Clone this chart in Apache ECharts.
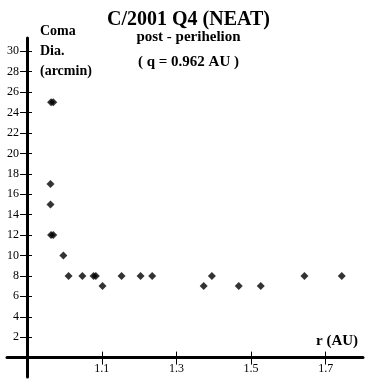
<!DOCTYPE html>
<html>
<head>
<meta charset="utf-8">
<script src="https://cdn.jsdelivr.net/npm/echarts@6/dist/echarts.min.js"></script>
<style>
  html, body { margin: 0; padding: 0; background: #fff; }
  #chart { width: 377px; height: 392px; }
</style>
</head>
<body>
<div id="chart"></div>
<script>
// heliocentric distance r (AU) and coma diameter (arcmin)
const rValues = [0.964, 0.970, 0.9625, 0.9625, 0.964, 0.970, 0.997, 1.011, 1.048, 1.078, 1.084,
  1.102, 1.153, 1.204, 1.235, 1.373, 1.395, 1.467, 1.526, 1.643, 1.743];
const comaValues = [25, 25, 17, 15, 12, 12, 10, 8, 8, 8, 8,
  7, 8, 8, 8, 7, 8, 7, 7, 8, 8];
const xTicks = [1.1, 1.3, 1.5, 1.7];
const yTicks = [2, 4, 6, 8, 10, 12, 14, 16, 18, 20, 22, 24, 26, 28, 30];

const serif = '"Liberation Serif", "DejaVu Serif", serif';
const X_MIN = 0.846, X_MAX = 1.8;
const Y_MIN = -1.9, Y_MAX = 31.3;

let myChart = echarts.init(document.getElementById('chart'));

const axisBase = {
  type: 'value',
  splitLine: { show: false },
};

let option = {
  backgroundColor: '#fff',
  animation: false,
  title: [
    {
      text: 'C/2001 Q4 (NEAT)',
      left: 'center',
      top: 10,
      padding: 0,
      textStyle: { fontFamily: serif, fontSize: 20, fontWeight: 'bold', color: '#000' },
    },
    {
      text: 'post - perihelion',
      left: 'center',
      top: 30,
      padding: 0,
      textStyle: { fontFamily: serif, fontSize: 15, fontWeight: 'bold', color: '#000' },
    },
    {
      text: '( q = 0.962 AU )',
      left: 'center',
      top: 55,
      padding: 0,
      textStyle: { fontFamily: serif, fontSize: 15, fontWeight: 'bold', color: '#000' },
    },
    {
      text: 'Coma\nDia.\n(arcmin)',
      left: 40,
      top: 21,
      padding: 0,
      textStyle: { fontFamily: serif, fontSize: 14, fontWeight: 'bold', color: '#000', lineHeight: 20 },
    },
    {
      text: 'r (AU)',
      left: 316,
      top: 334,
      padding: 0,
      textStyle: { fontFamily: serif, fontSize: 15, fontWeight: 'bold', color: '#000' },
    },
  ],
  grid: { left: 7, right: 14, top: 38, bottom: 15, containLabel: false },
  xAxis: [
    Object.assign({}, axisBase, {
      min: X_MIN,
      max: X_MAX,
      position: 'bottom',
      axisLine: { onZero: true, lineStyle: { color: '#000', width: 3 } },
      axisTick: { customValues: xTicks, length: 7, lineStyle: { color: '#000', width: 1 } },
      axisLabel: {
        customValues: xTicks,
        margin: -14,
        color: '#000',
        fontFamily: serif,
        fontSize: 12,
        formatter: (v) => v.toFixed(1),
      },
    }),
    Object.assign({}, axisBase, {
      min: X_MIN,
      max: X_MAX,
      position: 'bottom',
      axisLine: { show: false, onZero: true },
      axisTick: { customValues: xTicks, inside: true, length: 6, lineStyle: { color: '#000', width: 1 } },
      axisLabel: { show: false },
    }),
  ],
  yAxis: [
    Object.assign({}, axisBase, {
      min: Y_MIN,
      max: Y_MAX,
      position: 'left',
      offset: -20,
      axisLine: { onZero: false, lineStyle: { color: '#000', width: 3 } },
      axisTick: { customValues: yTicks, length: 7, lineStyle: { color: '#000', width: 1 } },
      axisLabel: {
        customValues: yTicks,
        margin: 8,
        color: '#000',
        fontFamily: serif,
        fontSize: 12,
      },
    }),
    Object.assign({}, axisBase, {
      min: Y_MIN,
      max: Y_MAX,
      position: 'left',
      offset: -20,
      axisLine: { show: false, onZero: false },
      axisTick: { customValues: yTicks, inside: true, length: 5, lineStyle: { color: '#000', width: 1 } },
      axisLabel: { show: false },
    }),
  ],
  series: [
    {
      type: 'scatter',
      symbol: 'diamond',
      symbolSize: 8,
      itemStyle: { color: '#000' },
      data: rValues.map((r, i) => [r, comaValues[i]]),
    },
  ],
};
myChart.setOption(option);
</script>
</body>
</html>
